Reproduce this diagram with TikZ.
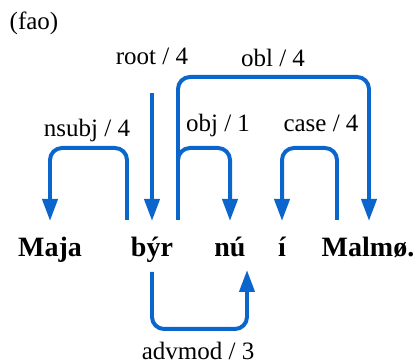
\documentclass[tikz,border=0pt]{standalone}
\usepackage{fontspec}
\setmainfont{Liberation Serif}
\usetikzlibrary{positioning,arrows.meta}
\definecolor{deparc}{RGB}{10,102,204}

\begin{document}
\begin{tikzpicture} [x=0.5pt,y=0.5pt,
  word/.style={anchor=base,inner sep=0pt,font=\fontsize{14pt}{16pt}\selectfont\bfseries},
  lab/.style={anchor=base,inner sep=0pt,font=\fontsize{12.5pt}{15pt}\selectfont},
  dep/.style={draw=deparc,line width=2pt,rounded corners=6pt,-{Triangle[length=11pt,width=7.5pt]}}]
\useasboundingbox (0,0) rectangle (419,364);

\node[lab] (fao) at (34,334) {(fao)};

% words
\node[word] (maja) at (50,107) {Maja};
\node[word] (byr) at (152,107) {býr};
\node[word] (nu) at (230,107) {nú};
\node[word] (i) at (282,107) {í};
\node[word] (malmo) at (368,107) {Malmø.};

% arc ends
\coordinate (maja-in) at (50,143);
\coordinate (byr-in) at (152,143);
\coordinate (nu-in) at (230,143);
\coordinate (i-in) at (282,143);
\coordinate (malmo-in) at (369,143);
\coordinate (byr-l) at (127,144);
\coordinate (byr-r) at (178,144);
\coordinate (malmo-l) at (337,144);
\coordinate (byr-d) at (152,92);
\coordinate (nu-d) at (247,94);

% arc tops
\coordinate (nsubj) at (88,216);
\coordinate (root) at (152,271);
\coordinate (obl) at (273,287);
\coordinate (obj) at (204,216);
\coordinate (case) at (309,216);
\coordinate (advmod) at (200,35);

\draw[dep](byr-l) |- (nsubj) -| (maja-in);
\draw[dep](root) -- (byr-in);
\draw[dep](byr-r) |- (obl) -| (malmo-in);
\draw[dep](byr-r) |- (obj) -| (nu-in);
\draw[dep](malmo-l) |- (case) -| (i-in);
\draw[dep](byr-d) |- (advmod) -| (nu-d);

% labels
\node[lab] at (87,227) {nsubj / 4};
\node[lab] at (152,299) {root / 4};
\node[lab] at (273,297) {obl / 4};
\node[lab] at (218,232) {obj / 1};
\node[lab] at (321,232) {case / 4};
\node[lab] at (198,4) {advmod / 3};
\end{tikzpicture}
\end{document}
